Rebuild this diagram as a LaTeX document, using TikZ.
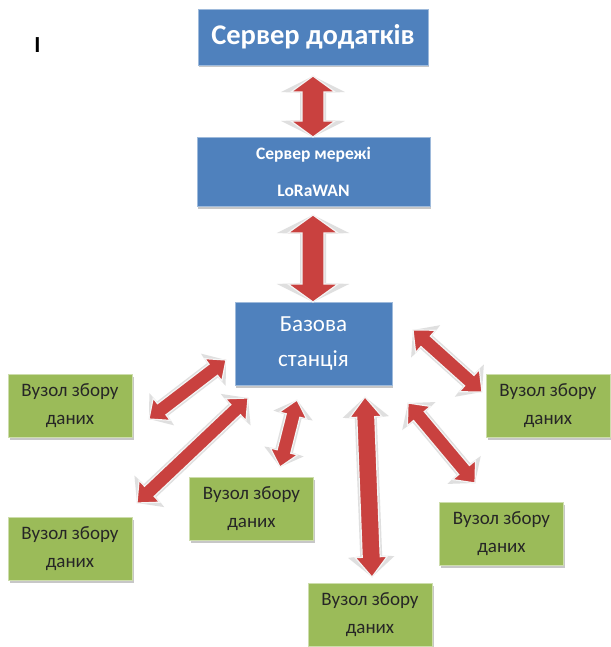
\documentclass[tikz,border=0pt]{standalone}
\usepackage{fontspec}
\setmainfont{Carlito}
\usetikzlibrary{calc,shadows}

\definecolor{boxblue}{HTML}{4F81BD}
\definecolor{boxgreen}{HTML}{9BBB59}
\definecolor{arrowred}{HTML}{C9413F}

% double-headed block arrow between two named points:
% #1 start, #2 end, #3 half shaft width, #4 half head width, #5 head length
\newcommand{\dblarrow}[5]{%
  \path let \p1=(#1), \p2=(#2) in \pgfextra{%
    \pgfmathsetmacro\arrang{atan2((\y2)-(\y1),(\x2)-(\x1))}%
    \pgfmathsetmacro\arrlen{veclen((\x2)-(\x1),(\y2)-(\y1))}%
    \global\let\arrang\arrang\global\let\arrlen\arrlen};
  \begin{scope}[shift={(#1)}, rotate=\arrang]
    \fill[arrowglow] (0,0) -- (#5,1.45*#4) -- (#5+1,#3+2) -- (\arrlen-#5-1,#3+2)
      -- (\arrlen-#5,1.45*#4) -- (\arrlen,0) -- (\arrlen-#5,-1.45*#4)
      -- (\arrlen-#5-1,-#3-2) -- (#5+1,-#3-2) -- (#5,-1.45*#4) -- cycle;
    \filldraw[arrowbody] (0,0) -- (#5,#4) -- (#5,#3) -- (\arrlen-#5,#3)
      -- (\arrlen-#5,#4) -- (\arrlen,0) -- (\arrlen-#5,-#4)
      -- (\arrlen-#5,-#3) -- (#5,-#3) -- (#5,-#4) -- cycle;
  \end{scope}}

\begin{document}
\begin{tikzpicture}[x=1pt,y=-1pt,
  bluebox/.style={fill=boxblue, draw=boxblue!55!white, line width=0.8pt,
    text=white, align=center, inner sep=0pt,
    drop shadow={shadow xshift=1pt, shadow yshift=-2.5pt, fill=gray!55, opacity=0.8}},
  greenbox/.style={fill=boxgreen, draw=boxgreen!50!white, line width=0.8pt,
    text=black!85, align=center, inner sep=0pt,
    minimum width=124pt, minimum height=63pt,
    font=\fontsize{19}{28}\selectfont,
    drop shadow={shadow xshift=1.5pt, shadow yshift=-2.5pt, fill=gray!55, opacity=0.8}},
  arrowbody/.style={fill=arrowred, draw=white!92!gray, line width=1.2pt, line join=miter},
  arrowglow/.style={fill=gray!45, opacity=0.55}]

\useasboundingbox (0,0) rectangle (610,647);
\fill[white] (0,0) rectangle (610,647);

% server boxes
\node[bluebox, minimum width=230pt, minimum height=56pt,
  font=\fontsize{28.5}{28}\selectfont\bfseries] (app) at (313,37) {Сервер додатків};
\node[bluebox, minimum width=233pt, minimum height=69pt,
  font=\fontsize{17.5}{37}\selectfont\bfseries] (net) at (313.5,172) {Сервер мережі\\LoRaWAN};
\node[bluebox, minimum width=157pt, minimum height=83pt,
  font=\fontsize{23}{35}\selectfont] (base) at (313.5,343.5) {Базова\\станція};

% end devices
\node[greenbox] (n1) at (70,406) {Вузол збору\\даних};
\node[greenbox] (n2) at (70,549) {Вузол збору\\даних};
\node[greenbox] (n3) at (251.5,509) {Вузол збору\\даних};
\node[greenbox] (n4) at (548,405.5) {Вузол збору\\даних};
\node[greenbox] (n5) at (501.5,534) {Вузол збору\\даних};
\node[greenbox] (n6) at (370,615) {Вузол збору\\даних};

\node[font=\fontsize{23}{23}\selectfont\bfseries, inner sep=0pt] (mark) at (37.5,45) {I};

% arrow end points
\coordinate (t1a) at (313,76);   \coordinate (t1b) at (313,137);
\coordinate (t2a) at (313,215);  \coordinate (t2b) at (313,302);
\coordinate (a1a) at (226,360);  \coordinate (a1b) at (149,419);
\coordinate (a2a) at (248,398);  \coordinate (a2b) at (137,503);
\coordinate (a3a) at (297,400);  \coordinate (a3b) at (280,467);
\coordinate (a4a) at (365,397);  \coordinate (a4b) at (372,577);
\coordinate (a5a) at (408,403);  \coordinate (a5b) at (475,483);
\coordinate (a6a) at (413,330);  \coordinate (a6b) at (482,392);

\dblarrow{t1a}{t1b}{11}{22}{16}
\dblarrow{t2a}{t2b}{11}{25}{18}
\dblarrow{a1a}{a1b}{7}{14}{16}
\dblarrow{a2a}{a2b}{7}{15}{17}
\dblarrow{a3a}{a3b}{7}{14}{16}
\dblarrow{a4a}{a4b}{9}{16}{20}
\dblarrow{a5a}{a5b}{7}{15}{17}
\dblarrow{a6a}{a6b}{7}{15}{17}
\end{tikzpicture}
\end{document}
